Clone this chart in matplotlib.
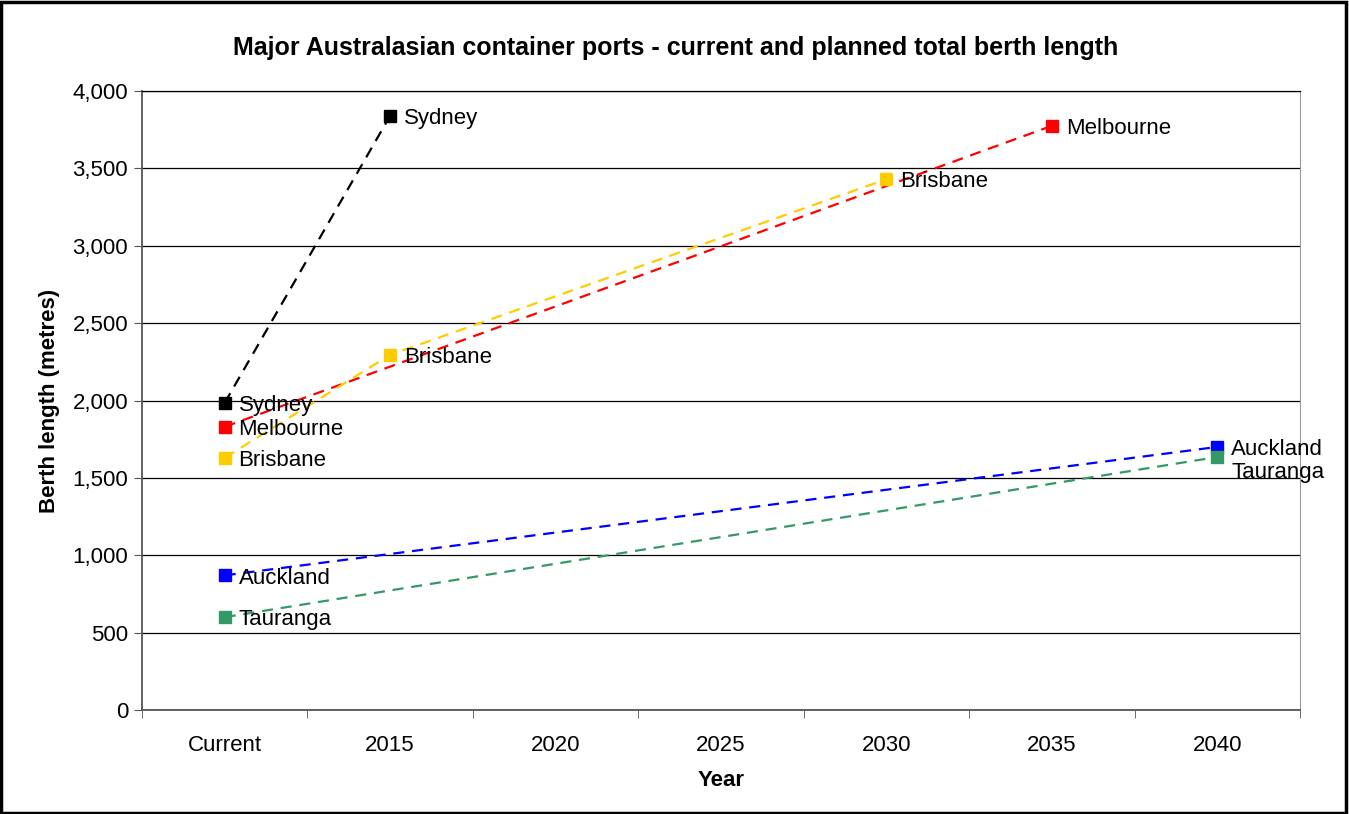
import matplotlib.pyplot as plt
from matplotlib.patches import Rectangle

plt.rcParams['font.family'] = ['Liberation Sans', 'DejaVu Sans']

categories = ['Current', '2015', '2020', '2025', '2030', '2035', '2040']

ports = ['Sydney', 'Melbourne', 'Brisbane', 'Auckland', 'Tauranga']
colores = ['#000000', '#FF0000', '#FFCC00', '#0000FF', '#339966']

# indices de categoria y longitud de muelle (metros) por puerto
sydney_x = [0, 1]
sydney_y = [1985, 3840]
melbourne_x = [0, 5]
melbourne_y = [1830, 3775]
brisbane_x = [0, 1, 4]
brisbane_y = [1630, 2295, 3430]
auckland_x = [0, 6]
auckland_y = [870, 1700]
tauranga_x = [0, 6]
tauranga_y = [600, 1635]

series = [(sydney_x, sydney_y), (melbourne_x, melbourne_y), (brisbane_x, brisbane_y),
          (auckland_x, auckland_y), (tauranga_x, tauranga_y)]

fig = plt.figure(figsize=(13.49, 8.14), dpi=100)
ax = fig.add_axes([142 / 1349, 104 / 814, 1158 / 1349, 619 / 814])

for nombre, color, (xs, ys) in zip(ports, colores, series):
    ax.plot(xs, ys, color=color, lw=1.6, ls=(0, (5, 3.5)), zorder=3)
    ax.plot(xs, ys, ls='none', marker='s', ms=8.8, color=color, zorder=4)
    for x, y in zip(xs, ys):
        dy = -11.5 if (nombre == 'Tauranga' and x == 6) else -2
        ax.annotate(nombre, (x, y), xytext=(10, dy), textcoords='offset points',
                    va='center', ha='left', fontsize=16, zorder=5)

ax.set_xlim(-0.5, 6.5)
ax.set_ylim(0, 4000)
ax.set_xticks(range(len(categories)))
ax.set_xticklabels(categories)
ax.set_xticks([i + 0.5 for i in range(-1, 7)], minor=True)
ax.tick_params(axis='x', which='major', length=0, pad=18, labelsize=16)
ax.tick_params(axis='x', which='minor', length=6, color='#555555', direction='out')
ax.set_yticks(range(0, 4001, 500))
ax.set_yticklabels([f'{v:,}' for v in range(0, 4001, 500)])
ax.tick_params(axis='y', length=6, color='#555555', labelsize=16, pad=4)
ax.grid(axis='y', color='black', lw=0.9)
ax.set_axisbelow(True)
for s in ['left', 'bottom']:
    ax.spines[s].set_color('#555555')
    ax.spines[s].set_linewidth(1.3)
ax.spines['right'].set_color('#999999')
ax.spines['top'].set_color('black')
ax.spines['top'].set_linewidth(0.9)

ax.set_xlabel('Year', fontsize=16, fontweight='bold', labelpad=10)
ax.set_ylabel('Berth length (metres)', fontsize=16, fontweight='bold', labelpad=9)
fig.text(676 / 1349, 1 - 48 / 814, 'Major Australasian container ports - current and planned total berth length',
         ha='center', va='center', fontsize=18, fontweight='bold')

fig.patches.append(Rectangle((0.001, 0.001), 0.997, 0.997, transform=fig.transFigure,
                             fill=False, edgecolor='black', lw=2.5))

fig.savefig('out.png', dpi=100)
